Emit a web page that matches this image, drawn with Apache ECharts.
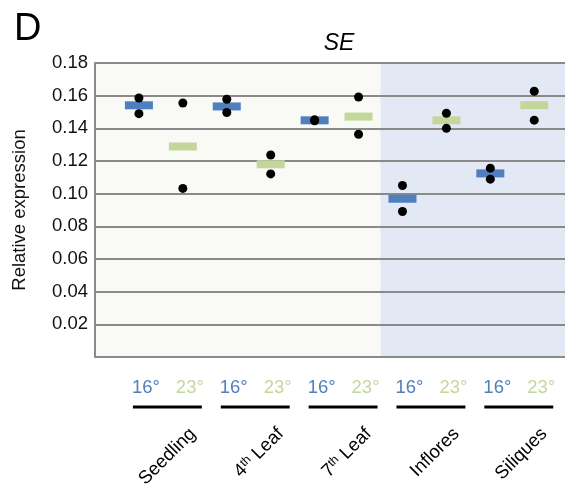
<!DOCTYPE html>
<html><head><meta charset="utf-8">
<script src="https://cdn.jsdelivr.net/npm/echarts@6/dist/echarts.min.js"></script>
<style>html,body{margin:0;padding:0;background:#fff}#c{width:565px;height:487px}</style>
</head><body><div id="c"></div>
<script>
// ---- data ----
const groups = ['Seedling', '4th Leaf', '7th Leaf', 'Inflores', 'Siliques'];
const groupRich = ['Seedling', '4{sup|th} Leaf', '7{sup|th} Leaf', 'Inflores', 'Siliques'];
const tempLabels = ['16°', '23°'];
const mean16 = [0.1541, 0.1534, 0.1449, 0.0969, 0.1124];
const mean23 = [0.1289, 0.1180, 0.1472, 0.1449, 0.1542];
const rep16a = [0.1586, 0.1578, 0.1452, 0.1050, 0.1156];
const rep16b = [0.1490, 0.1497, 0.1446, 0.0891, 0.1089];
const rep23a = [0.1555, 0.1237, 0.1592, 0.1492, 0.1627];
const rep23b = [0.1032, 0.1121, 0.1364, 0.1400, 0.1450];
const yTickLabels = ['0.02','0.04','0.06','0.08','0.10','0.12','0.14','0.16','0.18'];

const BLUE = '#4f7fbc', GREEN = '#c4d79b';
const FONT = 'Liberation Sans, Arial, Helvetica, sans-serif';
const FS = 18.5;

const pos16 = groups.map((g, i) => 2 * i);
const pos23 = groups.map((g, i) => 2 * i + 1);

const bars16 = pos16.map((p, i) => [p, mean16[i]]);
const bars23 = pos23.map((p, i) => [p, mean23[i]]);
const dots = [];
groups.forEach((g, i) => {
  dots.push([pos16[i], rep16a[i]], [pos16[i], rep16b[i]]);
  dots.push([pos23[i], rep23a[i]], [pos23[i], rep23b[i]]);
});

const chart = echarts.init(document.getElementById('c'), null, {renderer: 'canvas'});
const XMIN = -1, XMAX = 9.7, SPLIT = 5.5;
chart.setOption({
  animation: false,
  backgroundColor: '#fff',
  grid: {left: 95, right: 0, top: 63, bottom: 130, containLabel: false, outerBoundsMode: 'none'},
  xAxis: [
    {
      type: 'value', min: XMIN, max: XMAX, interval: 1, z: 1,
      axisLine: {show: false}, axisTick: {show: false}, splitLine: {show: false},
      axisLabel: {
        showMaxLabel: false, margin: 21, fontFamily: FONT, fontSize: FS,
        formatter: v => {
          if (v < 0 || Math.round(v) !== v) return '';
          return v % 2 === 0 ? '{a|' + tempLabels[0] + '}' : '{b|' + tempLabels[1] + '}';
        },
        rich: {
          a: {color: BLUE, fontFamily: FONT, fontSize: FS, padding: [0, 0, 0, 14]},
          b: {color: GREEN, fontFamily: FONT, fontSize: FS, padding: [0, 0, 0, 14]}
        }
      }
    },
    {
      // background bands: beige (vegetative) and blue (reproductive)
      type: 'value', min: XMIN, max: XMAX, interval: SPLIT - XMIN, z: 0, show: true,
      position: 'top',
      axisLine: {show: false}, axisTick: {show: false}, axisLabel: {show: false},
      splitLine: {show: false},
      splitArea: {show: true, areaStyle: {color: ['#f9f9f6', '#e3e9f4'], opacity: 1}}
    }
  ],
  yAxis: {
    type: 'value', min: 0, max: 0.18, interval: 0.02, z: 1,
    name: 'Relative expression', nameLocation: 'middle', nameGap: 66,
    nameTextStyle: {fontFamily: FONT, fontSize: FS, color: '#111'},
    axisLine: {show: true, onZero: false, lineStyle: {color: '#8a8a8a', width: 2}},
    axisTick: {show: false},
    splitLine: {show: true, lineStyle: {color: '#8a8a8a', width: 2}},
    axisLabel: {
      fontFamily: FONT, fontSize: FS, color: '#111', margin: 7,
      formatter: v => {
        const i = Math.round(v / 0.02) - 1;
        return i >= 0 ? yTickLabels[i] : '';
      }
    }
  },
  title: [
    {text: 'D', left: 9, top: 6, textStyle: {fontFamily: FONT, fontSize: 38, fontWeight: 'normal', color: '#000'}},
    {text: 'SE', left: 334, top: 27, textAlign: 'center', textStyle: {fontFamily: FONT, fontSize: 23, fontStyle: 'italic', fontWeight: 'normal', color: '#000'}}
  ],
  series: [
    {type: 'scatter', data: bars16, symbol: 'rect', symbolSize: [28, 8], itemStyle: {color: BLUE, opacity: 1}, z: 3},
    {type: 'scatter', data: bars23, symbol: 'rect', symbolSize: [28, 8], itemStyle: {color: GREEN, opacity: 1}, z: 3},
    {type: 'scatter', data: dots, symbol: 'circle', symbolSize: 9, itemStyle: {color: '#000', opacity: 1}, z: 4}
  ]
});

// decorations under the axis: group lines and rotated group names
const px = v => chart.convertToPixel({xAxisIndex: 0}, v);
const graphics = [];
groups.forEach((g, i) => {
  const x1 = px(pos16[i]) - 6, x2 = px(pos23[i]) + 19;
  graphics.push({type: 'line', shape: {x1: x1, y1: 407, x2: x2, y2: 407}, style: {stroke: '#000', lineWidth: 3}});
  graphics.push({
    type: 'text', x: px(pos23[i]) + 10, y: 431, rotation: Math.PI / 4,
    style: {
      text: groupRich[i], x: 0, y: 0, align: 'right', verticalAlign: 'middle',
      fontFamily: FONT, fontSize: FS, fill: '#000',
      rich: {sup: {fontFamily: FONT, fontSize: 12, verticalAlign: 'top', lineHeight: 12}}
    }
  });
});
chart.setOption({graphic: graphics});
</script>
</body></html>
